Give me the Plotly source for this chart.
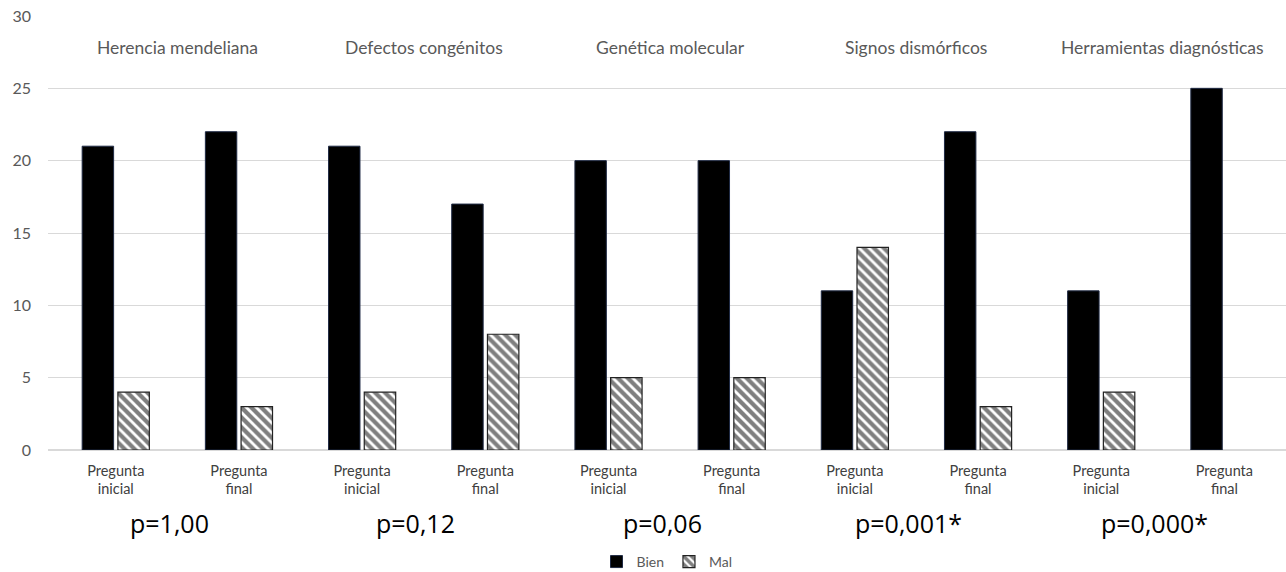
import plotly.graph_objects as go

topics = ["Herencia mendeliana", "Defectos congénitos", "Genética molecular",
          "Signos dismórficos", "Herramientas diagnósticas"]
moments = ["Pregunta inicial", "Pregunta final"]
p_values = ["p=1,00", "p=0,12", "p=0,06", "p=0,001*", "p=0,000*"]

bien = [21, 22, 21, 17, 20, 20, 11, 22, 11, 25]
mal = [4, 3, 4, 8, 5, 5, 14, 3, 4, 0]

categories = []
tick_text = []
for t_i, t in enumerate(topics):
    for m in moments:
        categories.append(f"{t_i}|{m}")
        tick_text.append(m.replace(" ", "<br>"))
x_idx = list(range(len(categories)))

FONT = "Lato, 'Noto Sans', sans-serif"

fig = go.Figure()
fig.add_trace(go.Bar(
    x=x_idx, y=bien, name="Bien",
    marker=dict(color="black", line=dict(color="#1f2a44", width=1)),
))
fig.add_trace(go.Bar(
    x=x_idx, y=mal, name="Mal",
    marker=dict(color="white",
                line=dict(color="#222222", width=[1.2 if v > 0 else 0 for v in mal]),
                pattern=dict(shape="\\", fgcolor="black", bgcolor="white",
                             size=7, solidity=0.6)),
))

annotations = []
for t_i, t in enumerate(topics):
    cx = t_i * 2 + 0.5
    annotations.append(dict(x=cx, y=27.8, xref="x", yref="y", text=t,
                            showarrow=False,
                            font=dict(family=FONT, size=17.5, color="#595959")))
    annotations.append(dict(x=cx, y=-0.168, xref="x", yref="paper", text=p_values[t_i],
                            showarrow=False, yanchor="middle", xshift=-8,
                            font=dict(family="'Open Sans', sans-serif", size=25, color="black")))

fig.update_layout(
    width=1286, height=572,
    margin=dict(l=48, r=0, t=16, b=122, autoexpand=False),
    paper_bgcolor="white", plot_bgcolor="white",
    barmode="group", bargap=0.42, bargroupgap=0.12,
    font=dict(family=FONT, color="#595959"),
    showlegend=True,
    legend=dict(orientation="h", x=0.5, xanchor="center", y=-0.258, yanchor="middle",
                font=dict(family=FONT, size=14, color="#595959"),
                itemwidth=30, traceorder="normal"),
    annotations=annotations,
    xaxis=dict(
        tickmode="array", tickvals=x_idx, ticktext=tick_text,
        range=[-0.55, len(categories) - 0.5],
        showgrid=False, zeroline=False, showline=False, ticks="",
        tickfont=dict(family=FONT, size=14.5, color="#404040"),
        ticklabelstandoff=10, automargin=False,
    ),
    yaxis=dict(
        range=[0, 30], dtick=5, showgrid=True, gridcolor="#d9d9d9", gridwidth=1,
        zeroline=True, zerolinecolor="#d9d9d9", zerolinewidth=1.5,
        showline=False, ticks="",
        tickfont=dict(family=FONT, size=16, color="#595959"),
        ticklabelstandoff=16, automargin=False, ticklabeloverflow="allow",
    ),
)

fig.write_html("out.html",
               config={"displayModeBar": False},
               post_script="document.body.style.margin='0px';document.body.style.overflow='hidden';")
